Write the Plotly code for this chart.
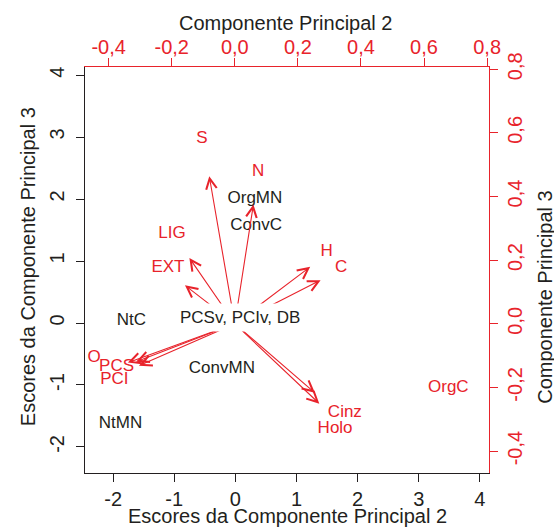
import plotly.graph_objects as go

RED = "#e8232b"
INK = "#231f20"
FONT = "Liberation Sans, Arial, sans-serif"

# Observation scores (PC2, PC3)
obs_labels = ["OrgMN", "ConvC", "NtC", "ConvMN", "NtMN"]
obs_x = [0.32, 0.34, -1.70, -0.22, -1.88]
obs_y = [2.01, 1.57, 0.03, -0.74, -1.63]

center_label = "PCSv, PCIv, DB"
center_x = [0.07]
center_y = [0.09]

# Variable loadings (arrow tips) on the secondary axes
var_labels = ["S", "N", "LIG", "EXT", "H", "C", "O", "PCS", "PCI", "Cinz", "Holo"]
tip_x = [-0.081, 0.059, -0.144, -0.158, 0.239, 0.272, -0.339, -0.313, -0.304, 0.254, 0.268]
tip_y = [0.464, 0.375, 0.207, 0.121, 0.179, 0.137, -0.122, -0.119, -0.132, -0.217, -0.251]

# Variable label positions (secondary axes)
lab_names = ["S", "N", "LIG", "EXT", "H", "C", "O", "PCS", "PCI", "Cinz", "Holo", "OrgC"]
lab_x = [-0.104, 0.074, -0.199, -0.212, 0.291, 0.337, -0.446, -0.375, -0.382, 0.349, 0.318, 0.677]
lab_y = [0.582, 0.478, 0.284, 0.176, 0.225, 0.176, -0.107, -0.135, -0.177, -0.280, -0.330, -0.201]

# Tick labels
x_ticks = [-2, -1, 0, 1, 2, 3, 4]
x_ticktext = ["-2", "-1", "0", "1", "2", "3", "4"]
y_ticks = [-2, -1, 0, 1, 2, 3, 4]
y_ticktext = ["-2", "-1", "0", "1", "2", "3", "4"]
sec_ticks = [-0.4, -0.2, 0.0, 0.2, 0.4, 0.6, 0.8]
sec_ticktext = ["-0,4", "-0,2", "0,0", "0,2", "0,4", "0,6", "0,8"]

fig = go.Figure()

fig.add_trace(go.Scatter(
    x=obs_x, y=obs_y, text=obs_labels, mode="text",
    textfont=dict(family=FONT, size=17, color=INK),
    xaxis="x", yaxis="y", hoverinfo="skip", showlegend=False))

fig.add_trace(go.Scatter(
    x=lab_x, y=lab_y, text=lab_names, mode="text",
    textfont=dict(family=FONT, size=17, color=RED),
    xaxis="x2", yaxis="y2", hoverinfo="skip", showlegend=False))

annotations = []
for tx, ty in zip(tip_x, tip_y):
    annotations.append(dict(
        x=tx, y=ty, xref="x2", yref="y2",
        ax=0, ay=0, axref="x2", ayref="y2",
        text="", showarrow=True, arrowhead=5, arrowsize=1.9,
        arrowwidth=1.1, arrowcolor=RED, standoff=0))

annotations.append(dict(
    x=center_x[0], y=center_y[0], xref="x", yref="y",
    text=center_label, showarrow=False, bgcolor="white", borderpad=4,
    font=dict(family=FONT, size=17, color=INK)))

title_font = dict(family=FONT, size=20, color=INK)
annotations += [
    dict(text="Escores da Componente Principal 2", x=0.5, y=-0.106,
         xref="paper", yref="paper", showarrow=False, font=title_font,
         xanchor="center", yanchor="middle"),
    dict(text="Componente Principal 2", x=0.497, y=1.1076,
         xref="paper", yref="paper", showarrow=False, font=title_font,
         xanchor="center", yanchor="middle"),
    dict(text="Escores da Componente Principal 3", x=-0.141, y=0.507,
         xref="paper", yref="paper", showarrow=False, font=title_font,
         textangle=-90, xanchor="center", yanchor="middle"),
    dict(text="Componente Principal 3", x=1.138, y=0.4335,
         xref="paper", yref="paper", showarrow=False, font=title_font,
         textangle=-90, xanchor="center", yanchor="middle"),
]

tick_font_black = dict(family=FONT, size=20, color=INK)
tick_font_red = dict(family=FONT, size=20, color=RED)

common = dict(showgrid=False, zeroline=False, showline=True, linewidth=1.2,
              ticks="outside", ticklen=8, automargin=False)

fig.update_layout(
    width=554, height=527,
    margin=dict(l=85, r=65, t=67, b=54, autoexpand=False),
    paper_bgcolor="white", plot_bgcolor="white",
    showlegend=False,
    annotations=annotations,
    xaxis=dict(range=[-2.46, 4.15], tickvals=x_ticks, ticktext=x_ticktext,
               linecolor=INK, tickcolor=INK, tickfont=tick_font_black,
               side="bottom", anchor="y", **common),
    yaxis=dict(range=[-2.42, 4.13], tickvals=y_ticks, ticktext=y_ticktext,
               linecolor=INK, tickcolor=INK, tickfont=tick_font_black,
               tickangle=-90, side="left", anchor="x", ticklabelstandoff=4,
               **common),
    xaxis2=dict(range=[-0.475, 0.806], tickvals=sec_ticks, ticktext=sec_ticktext,
                overlaying="x", side="top", anchor="y",
                linecolor=RED, tickcolor=RED, tickfont=tick_font_red,
                ticklabelstandoff=-4, **common),
    yaxis2=dict(range=[-0.469, 0.807], tickvals=sec_ticks, ticktext=sec_ticktext,
                overlaying="y", side="right", anchor="x",
                linecolor=RED, tickcolor=RED, tickfont=tick_font_red,
                tickangle=-90, **common),
)

fig.write_html(
    "out.html",
    config={"displayModeBar": False},
    post_script="document.body.style.margin='0';document.body.style.padding='0';"
                "document.documentElement.style.overflow='hidden';",
)
